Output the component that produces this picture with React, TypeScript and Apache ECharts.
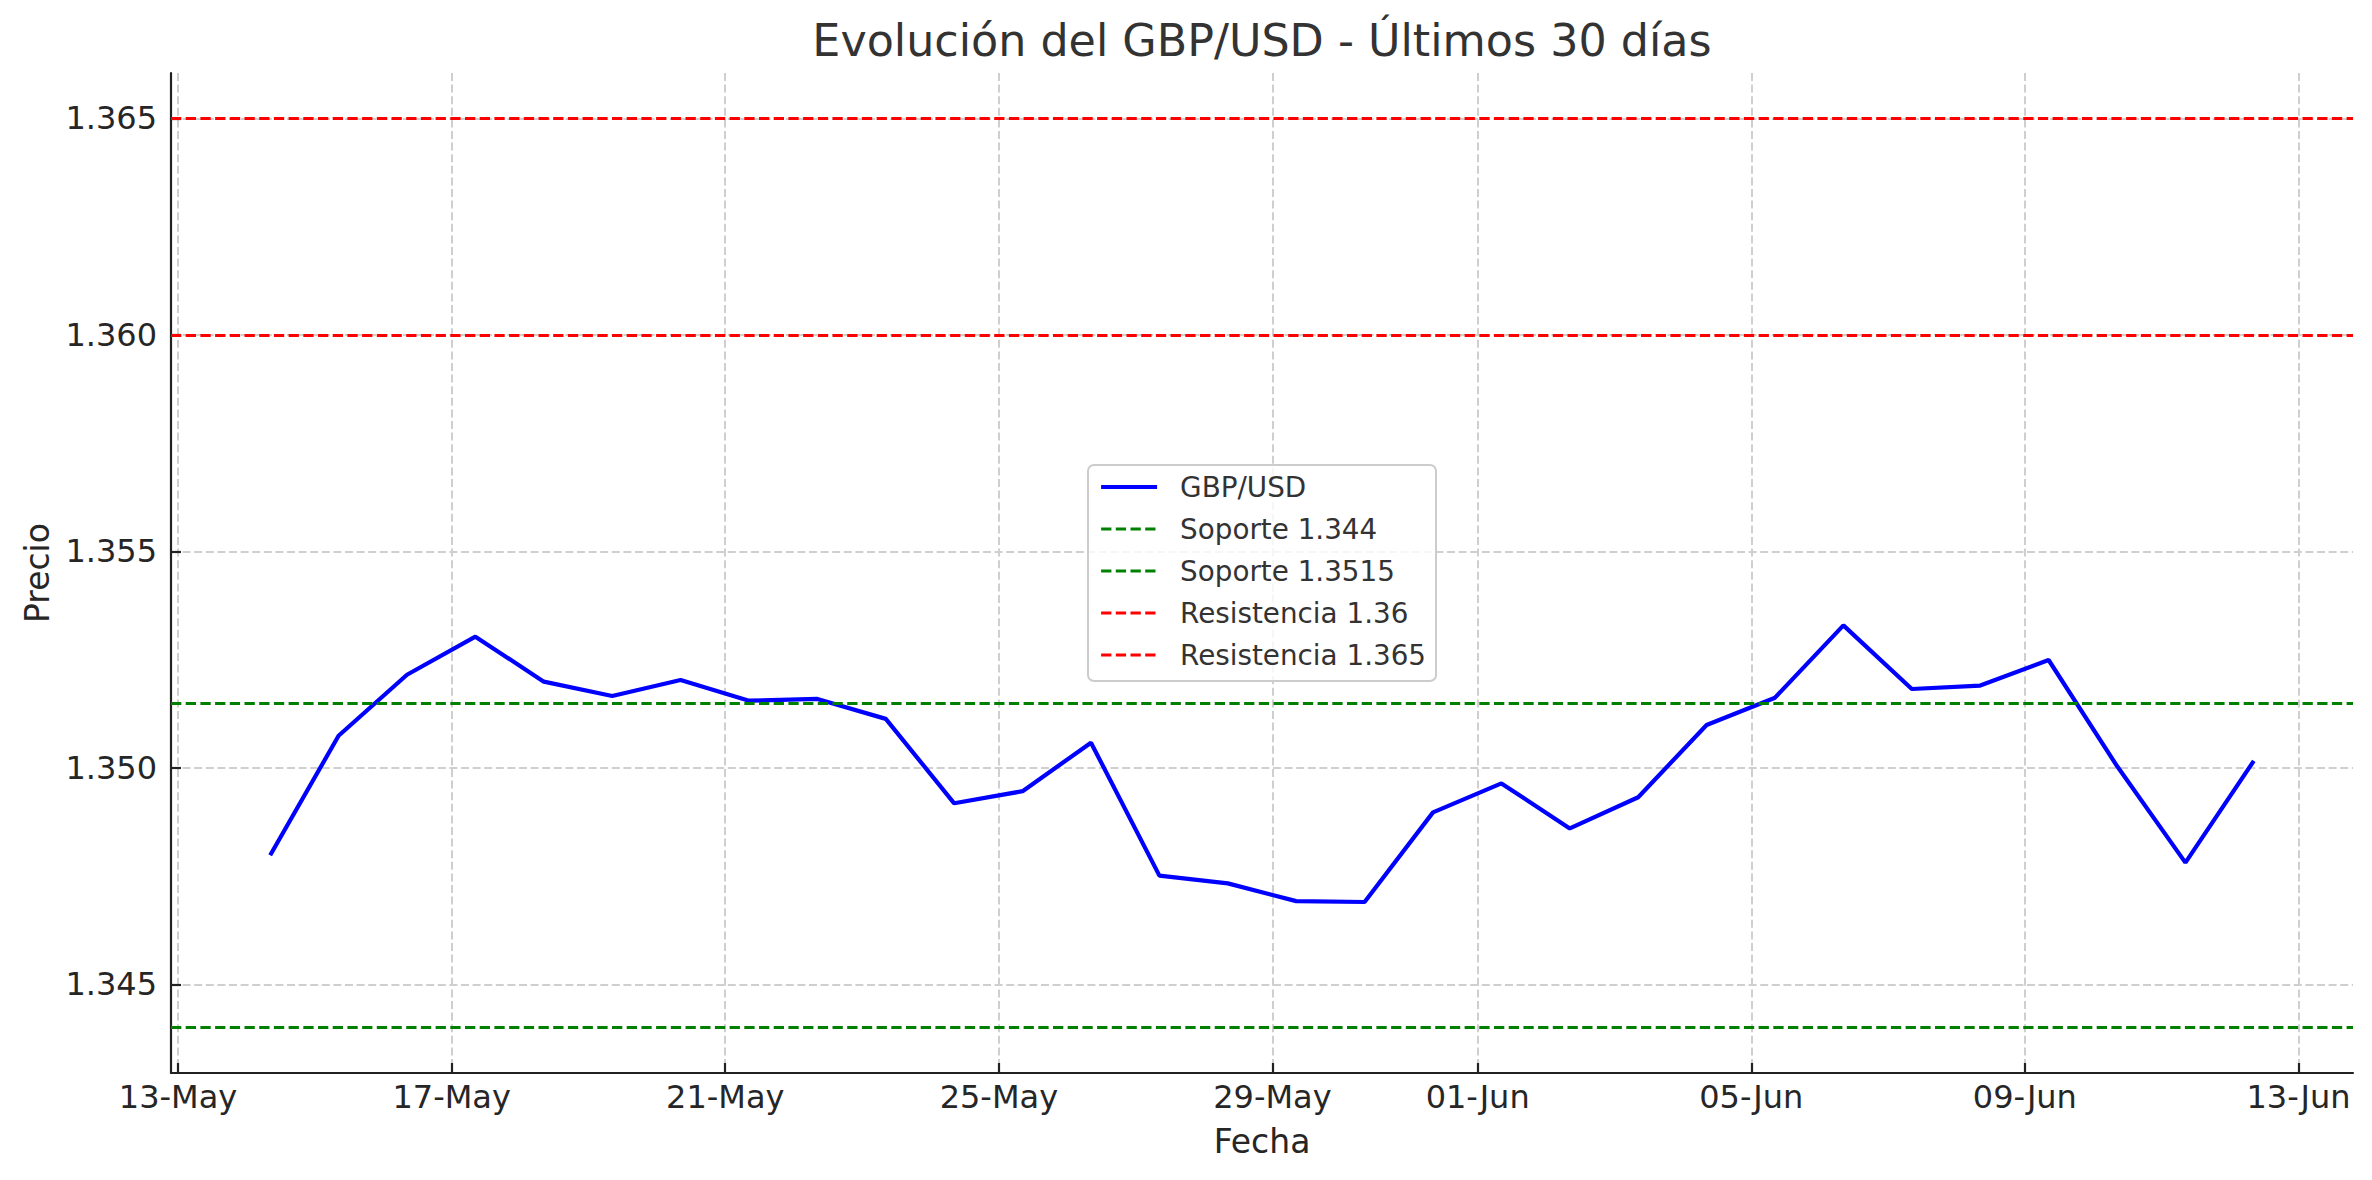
import React, { useEffect, useRef } from "react";
import * as echarts from "echarts";

// Cierre diario GBP/USD (hora de muestreo 08:20)
const DATES = [
  "2025-05-14", "2025-05-15", "2025-05-16", "2025-05-17", "2025-05-18",
  "2025-05-19", "2025-05-20", "2025-05-21", "2025-05-22", "2025-05-23",
  "2025-05-24", "2025-05-25", "2025-05-26", "2025-05-27", "2025-05-28",
  "2025-05-29", "2025-05-30", "2025-05-31", "2025-06-01", "2025-06-02",
  "2025-06-03", "2025-06-04", "2025-06-05", "2025-06-06", "2025-06-07",
  "2025-06-08", "2025-06-09", "2025-06-10", "2025-06-11", "2025-06-12",
];
const SAMPLE_TIME = "08:20";

const PRICES = [
  1.34798, 1.35074, 1.35215, 1.35303, 1.35199, 1.35166, 1.35203, 1.35155, 1.35159, 1.35113,
  1.34918, 1.34946, 1.35058, 1.34751, 1.34733, 1.34692, 1.3469, 1.34897, 1.34964, 1.3486,
  1.34932, 1.35099, 1.35162, 1.35329, 1.35182, 1.3519, 1.35249, 1.35004, 1.34781, 1.35016,
];

const SUPPORTS = [1.344, 1.3515];
const RESISTANCES = [1.36, 1.365];

const TICK_DATES = [
  "2025-05-13", "2025-05-17", "2025-05-21", "2025-05-25", "2025-05-29",
  "2025-06-01", "2025-06-05", "2025-06-09", "2025-06-13",
];
const TICK_LABELS = [
  "13-May", "17-May", "21-May", "25-May", "29-May",
  "01-Jun", "05-Jun", "09-Jun", "13-Jun",
];
const Y_TICKS = [1.345, 1.35, 1.355, 1.36, 1.365];

const FONT = "'DejaVu Sans', 'Noto Sans', sans-serif";
const DASH = [10.3, 4.4];
const TEXT = "#262626";

// fecha "YYYY-MM-DD" (+ "HH:MM") -> horas desde la época (UTC)
const toHours = (d: string, t = "00:00") => {
  const [y, m, day] = d.split("-").map(Number);
  const [hh, mm] = t.split(":").map(Number);
  return Date.UTC(y, m - 1, day, hh, mm) / 3600000;
};

const levelSeries = (name: string, value: number, color: string) => ({
  name,
  type: "line",
  data: [],
  symbol: "none",
  lineStyle: { color, width: 2.8, type: DASH },
  itemStyle: { color },
  markLine: {
    silent: true,
    precision: 6,
    symbol: ["none", "none"],
    label: { show: false },
    lineStyle: { color, width: 2.8, type: DASH },
    data: [{ yAxis: value }],
  },
});

const App: React.FC = () => {
  const chartRef = useRef<HTMLDivElement>(null);

  useEffect(() => {
    if (!chartRef.current) return;
    const chart = echarts.init(chartRef.current, null, { renderer: "svg" });

    const hours = DATES.map((d) => toHours(d, SAMPLE_TIME));
    const tickHours = TICK_DATES.map((d) => toHours(d));

    // márgenes del 5% como matplotlib
    const xSpan = hours[hours.length - 1] - hours[0];
    const xMin = hours[0] - xSpan * 0.05;
    const xMax = hours[hours.length - 1] + xSpan * 0.05;
    const lo = Math.min(...SUPPORTS, ...PRICES);
    const hi = Math.max(...RESISTANCES, ...PRICES);
    const yMin = lo - (hi - lo) * 0.05;
    const yMax = hi + (hi - lo) * 0.05;

    const axisLine = { show: true, onZero: false, lineStyle: { color: "#222", width: 2.2 } };
    const axisTick = (customValues: number[]) => ({
      show: true,
      inside: true,
      length: 10,
      customValues,
      lineStyle: { color: "#222", width: 2.2 },
    });
    const splitLine = {
      show: true,
      lineStyle: { color: "#cfcfcf", width: 2, type: [8, 3.6] },
    };

    chart.setOption({
      animation: false,
      textStyle: { fontFamily: FONT },
      title: {
        text: "Evolución del GBP/USD - Últimos 30 días",
        left: 1262,
        top: 18,
        padding: 0,
        textAlign: "center",
        textStyle: { fontSize: 44.4, fontWeight: "normal", color: "#333", fontFamily: FONT },
      },
      legend: {
        orient: "vertical",
        left: 1088,
        top: 465,
        padding: [8, 10, 12, 11],
        itemWidth: 56,
        itemHeight: 14,
        itemGap: 14,
        itemStyle: { opacity: 0 },
        lineStyle: { width: "inherit" },
        backgroundColor: "rgba(255,255,255,0.8)",
        borderColor: "#cccccc",
        borderWidth: 2,
        borderRadius: 6,
        textStyle: { fontSize: 27.8, color: "#333", fontFamily: FONT, padding: [0, 0, 0, 18] },
        data: ["GBP/USD", "Soporte 1.344", "Soporte 1.3515", "Resistencia 1.36", "Resistencia 1.365"],
      },
      grid: { left: 171, right: 19, top: 73, bottom: 107, containLabel: false, outerBoundsMode: "none" },
      xAxis: {
        type: "value",
        min: xMin,
        max: xMax,
        scale: true,
        name: "Fecha",
        nameLocation: "middle",
        nameGap: 52,
        nameTextStyle: { fontSize: 33, color: TEXT, fontFamily: FONT },
        axisLine,
        axisTick: axisTick(tickHours),
        axisLabel: {
          customValues: tickHours,
          margin: 8,
          fontSize: 32,
          color: TEXT,
          fontFamily: FONT,
          formatter: (v: number) => {
            const i = tickHours.findIndex((t) => Math.abs(t - v) < 1e-6);
            return i >= 0 ? TICK_LABELS[i] : "";
          },
        },
        splitLine,
      },
      yAxis: {
        type: "value",
        min: yMin,
        max: yMax,
        scale: true,
        name: "Precio",
        nameLocation: "middle",
        nameGap: 116,
        nameTextStyle: { fontSize: 33, color: TEXT, fontFamily: FONT },
        axisLine,
        axisTick: axisTick(Y_TICKS),
        axisLabel: {
          customValues: Y_TICKS,
          margin: 14,
          fontSize: 32,
          color: TEXT,
          fontFamily: FONT,
          formatter: (v: number) => v.toFixed(3),
        },
        splitLine,
      },
      series: [
        {
          name: "GBP/USD",
          type: "line",
          data: hours.map((h, i) => [h, PRICES[i]]),
          symbol: "none",
          lineStyle: { color: "#0000ff", width: 4.2 },
          itemStyle: { color: "#0000ff" },
        },
        levelSeries("Soporte 1.344", SUPPORTS[0], "#008000"),
        levelSeries("Soporte 1.3515", SUPPORTS[1], "#008000"),
        levelSeries("Resistencia 1.36", RESISTANCES[0], "#ff0000"),
        levelSeries("Resistencia 1.365", RESISTANCES[1], "#ff0000"),
      ],
    });

    return () => chart.dispose();
  }, []);

  return (
    <div
      ref={chartRef}
      style={{ position: "fixed", left: 0, top: 0, width: 2372, height: 1180, background: "#fff" }}
    />
  );
};

export default App;
